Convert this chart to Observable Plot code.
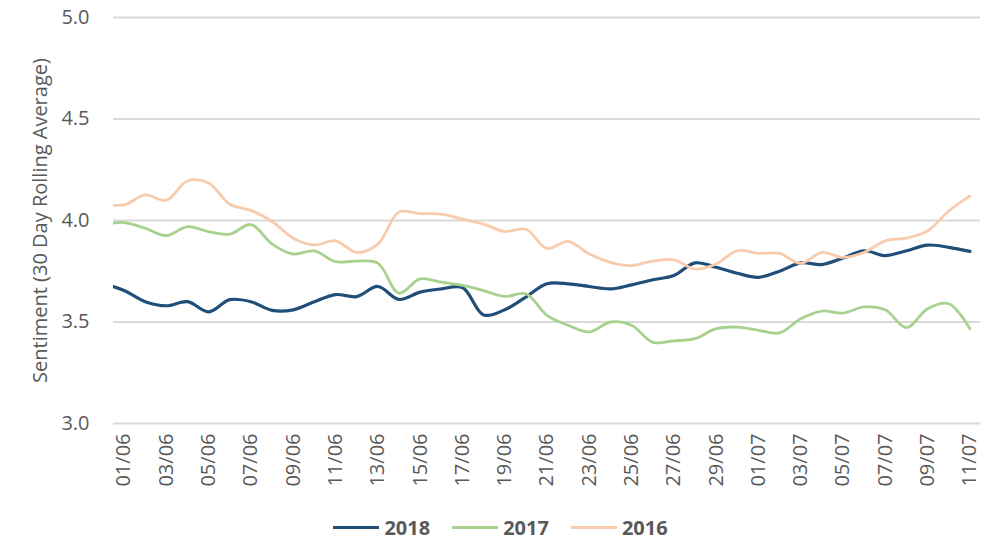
<!DOCTYPE html>
<html>
<head>
<meta charset="utf-8">
<script src="https://cdn.jsdelivr.net/npm/d3@7"></script>
<script src="https://cdn.jsdelivr.net/npm/@observablehq/plot@0.6"></script>
<style>
  body { margin: 0; background: #fff; font-family: "Open Sans", sans-serif; }
  #chart svg { display: block; }
  #legend { display: flex; justify-content: center; align-items: center; gap: 22px; margin-top: 14px; padding-left: 10px; height: 26px; }
  .item { display: flex; align-items: center; gap: 5px; font-weight: bold; font-size: 20px; color: #595959; }
  .sw { width: 46px; height: 3px; }
</style>
</head>
<body>
<div id="chart"></div>
<div id="legend"></div>
<script>
// Day labels (index 0 = 31/05, partially visible at the left edge)
const days = ["31/05",
  "01/06","02/06","03/06","04/06","05/06","06/06","07/06","08/06","09/06","10/06",
  "11/06","12/06","13/06","14/06","15/06","16/06","17/06","18/06","19/06","20/06",
  "21/06","22/06","23/06","24/06","25/06","26/06","27/06","28/06","29/06","30/06",
  "01/07","02/07","03/07","04/07","05/07","06/07","07/07","08/07","09/07","10/07","11/07"];

const series = ["2018", "2017", "2016"];
const colors = ["#1F4E79", "#A9D18E", "#F8CBAD"];
const widths = [3.2, 2.8, 2.8];

const v2018 = [3.69, 3.655, 3.60, 3.58, 3.60, 3.55, 3.61, 3.60, 3.557, 3.56, 3.60,
  3.635, 3.625, 3.675, 3.611, 3.647, 3.663, 3.67, 3.535, 3.56, 3.623,
  3.688, 3.688, 3.675, 3.663, 3.683, 3.708, 3.729, 3.791, 3.77, 3.74,
  3.72, 3.75, 3.791, 3.783, 3.815, 3.851, 3.827, 3.851, 3.879, 3.868, 3.848];
const v2017 = [3.98, 3.99, 3.962, 3.925, 3.97, 3.945, 3.933, 3.98, 3.884, 3.835, 3.85,
  3.797, 3.80, 3.79, 3.642, 3.712, 3.696, 3.68, 3.655, 3.626, 3.639,
  3.533, 3.484, 3.451, 3.50, 3.484, 3.40, 3.407, 3.418, 3.467, 3.475,
  3.459, 3.446, 3.516, 3.554, 3.544, 3.574, 3.56, 3.472, 3.565, 3.59, 3.467];
const v2016 = [4.083, 4.077, 4.126, 4.10, 4.195, 4.185, 4.08, 4.05, 3.995, 3.913, 3.88,
  3.90, 3.843, 3.884, 4.042, 4.034, 4.031, 4.007, 3.982, 3.946, 3.957,
  3.863, 3.897, 3.835, 3.794, 3.778, 3.80, 3.806, 3.761, 3.786, 3.851,
  3.838, 3.838, 3.789, 3.843, 3.818, 3.843, 3.90, 3.913, 3.949, 4.047, 4.121];

const yTicks = [3.0, 3.5, 4.0, 4.5, 5.0];
const xTickLabels = ["01/06","03/06","05/06","07/06","09/06","11/06","13/06","15/06","17/06","19/06",
  "21/06","23/06","25/06","27/06","29/06","01/07","03/07","05/07","07/07","09/07","11/07"];
const xTicks = xTickLabels.map(l => days.indexOf(l));

const values = [v2018, v2017, v2016];
const rows = series.map((s, k) => values[k].map((v, i) => ({ s, i, v })));

const plot = Plot.plot({
  width: 991,
  height: 500,
  marginTop: 17,
  marginLeft: 113,
  marginRight: 11,
  marginBottom: 77,
  style: { fontFamily: "'Open Sans', sans-serif", fontSize: "20px", color: "#595959", background: "#fff" },
  x: { domain: [0.5, 41.5] },
  y: { domain: [3, 5] },
  marks: [
    Plot.gridY(yTicks, { stroke: "#d9d9d9", strokeOpacity: 1, strokeWidth: 2 }),
    Plot.axisY(yTicks, { tickSize: 0, tickPadding: 24, tickFormat: d3.format(".1f"), label: null, fill: "#595959" }),
    Plot.text(["Sentiment (30 Day Rolling Average)"], {
      text: d => d, frameAnchor: "left", dx: -73, rotate: -90,
      textAnchor: "middle", lineAnchor: "middle", fill: "#595959", fontSize: 20
    }),
    Plot.axisX(xTicks, { tickSize: 0, tickRotate: -90, tickPadding: 10, tickFormat: d => days[d], label: null, fill: "#595959" }),
    ...rows.map((r, k) => Plot.line(r, {
      x: "i", y: "v", stroke: colors[k], strokeWidth: widths[k], curve: "catmull-rom", clip: true
    }))
  ]
});
document.getElementById("chart").append(plot);

const legend = document.getElementById("legend");
series.forEach((s, k) => {
  const item = document.createElement("div");
  item.className = "item";
  const sw = document.createElement("span");
  sw.className = "sw";
  sw.style.background = colors[k];
  const t = document.createElement("span");
  t.textContent = s;
  item.append(sw, t);
  legend.append(item);
});
</script>
</body>
</html>
